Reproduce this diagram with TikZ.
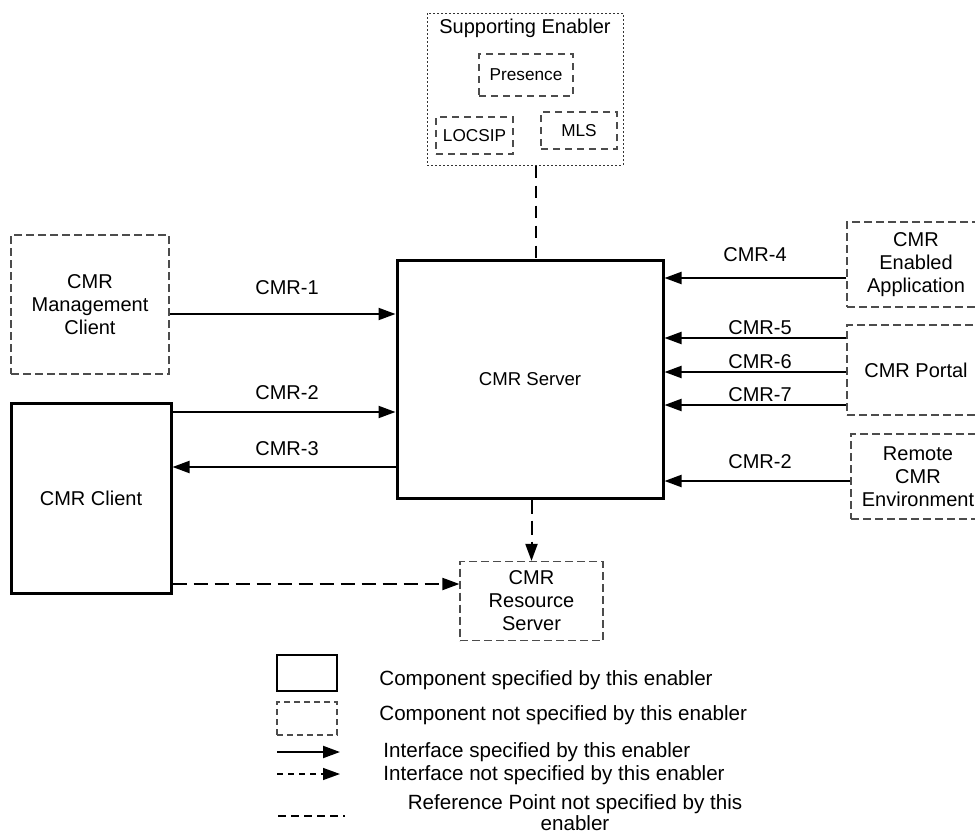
\documentclass[tikz,border=0pt]{standalone}
\usepackage{fontspec}
\setmainfont{Liberation Sans}
\usetikzlibrary{arrows.meta}

\tikzset{
    every node/.style={font=\fontsize{10}{11.5}\selectfont, inner sep=0pt},
    comp/.style={draw, line width=1.5pt, align=center},
    extcomp/.style={draw=black!70, line width=0.6pt, dash pattern=on 4pt off 2pt, align=center},
    subcomp/.style={draw=black!70, line width=0.6pt, dash pattern=on 3.5pt off 2.5pt, align=center, font=\fontsize{8.6}{10}\selectfont},
    supbox/.style={draw=black!80, line width=0.5pt, dash pattern=on 1pt off 1pt},
    iface/.style={line width=1pt, -{Triangle[length=8.5pt, width=6pt]}},
    extiface/.style={line width=1pt, dash pattern=on 7pt off 3.5pt, -{Triangle[length=8.5pt, width=6pt]}},
    refpt/.style={line width=1pt, dash pattern=on 6pt off 4pt},
    legtext/.style={anchor=west, font=\fontsize{10.3}{11}\selectfont}
}

\begin{document}
\begin{tikzpicture}[x=0.5pt, y=-0.5pt]
    \useasboundingbox (0,0) rectangle (975,835);

    % supporting enabler
    \node[supbox, minimum width=98pt, minimum height=76pt] (suppen) at (525,89) {};
    \node (suptitle) at (525,28) {Supporting Enabler};
    \node[subcomp, minimum width=47pt, minimum height=21pt] (presence) at (526,75) {Presence};
    \node[subcomp, minimum width=38.5pt, minimum height=18.5pt] (locsip) at (474.5,135.5) {LOCSIP};
    \node[subcomp, minimum width=38pt, minimum height=18.5pt] (mls) at (579,130.5) {MLS};

    % components
    \node[comp, minimum width=133pt, minimum height=119pt, font=\fontsize{9.3}{11}\selectfont] (server) at (530,379) {CMR Server};
    \node[extcomp, minimum width=79pt, minimum height=69.5pt] (mgmt) at (90,304.5) {CMR\\Management\\Client};
    \node[comp, minimum width=80pt, minimum height=95pt] (client) at (91,498) {CMR Client};
    \node[extcomp, minimum width=71.5pt, minimum height=39.5pt] (resource) at (531.5,601) {CMR\\Resource\\Server};
    \node[extcomp, minimum width=69pt, minimum height=42.5pt] (enabled) at (916,264.5) {CMR\\Enabled\\Application};
    \node[extcomp, minimum width=69pt, minimum height=45pt] (portal) at (916,370) {CMR Portal};
    \node[extcomp, minimum width=67pt, minimum height=42.5pt] (remote) at (918,476.5) {Remote\\CMR\\Environment};

    % interfaces
    \draw[refpt] (suppen.south -| 536,0) -- (server.north -| 536,0);
    \draw[iface] (mgmt.east |- 0,314) -- (server.west |- 0,314);
    \draw[iface] (client.east |- 0,412) -- (server.west |- 0,412);
    \draw[iface] (server.west |- 0,467) -- (client.east |- 0,467);
    \draw[extiface] (server.south -| resource.north) -- (resource.north);
    \draw[extiface] (client.east |- 0,584) -- (resource.west |- 0,584);
    \draw[iface] (enabled.west |- 0,278) -- (server.east |- 0,278);
    \draw[iface] (remote.west |- 0,481) -- (server.east |- 0,481);
    \foreach \n/\y in {5/338,6/372,7/405}{
        \draw[iface] (portal.west |- 0,\y) -- (server.east |- 0,\y);
        \node (lbl\n) at (760,\y-10.5) {CMR-\n};
    }

    \node (lbl1) at (287,288) {CMR-1};
    \node (lbl2) at (287,393) {CMR-2};
    \node (lbl3) at (287,449) {CMR-3};
    \node (lbl4) at (755,255) {CMR-4};
    \node (lbl2r) at (760,462) {CMR-2};

    % legend
    \node[draw, line width=1pt, minimum width=30pt, minimum height=18pt] (legcomp) at (307,673) {};
    \node[draw=black!70, line width=0.6pt, dash pattern=on 3pt off 2pt, minimum width=30pt, minimum height=16.5pt] (legext) at (307,718.5) {};
    \coordinate (legia) at (277,752);
    \coordinate (legib) at (340,752);
    \coordinate (legea) at (277,774);
    \coordinate (legeb) at (340,774);
    \coordinate (legra) at (278,816);
    \coordinate (legrb) at (345,816);
    \draw[line width=1pt, -{Triangle[length=8.5pt, width=6pt]}] (legia) -- (legib);
    \draw[line width=0.7pt, dash pattern=on 3pt off 2.5pt, -{Triangle[length=8.5pt, width=6pt]}] (legea) -- (legeb);
    \draw[line width=0.7pt, dash pattern=on 4pt off 2.5pt] (legra) -- (legrb);

    \node[legtext] (legt1) at (379,680) {Component specified by this enabler};
    \node[legtext] (legt2) at (379,715) {Component not specified by this enabler};
    \node[legtext] (legt3) at (383,752) {Interface specified by this enabler};
    \node[legtext] (legt4) at (383,775) {Interface not specified by this enabler};
    \node[align=center, font=\fontsize{10.3}{10.5}\selectfont] (legt5) at (575,813) {Reference Point not specified by this\\enabler};
\end{tikzpicture}
\end{document}
